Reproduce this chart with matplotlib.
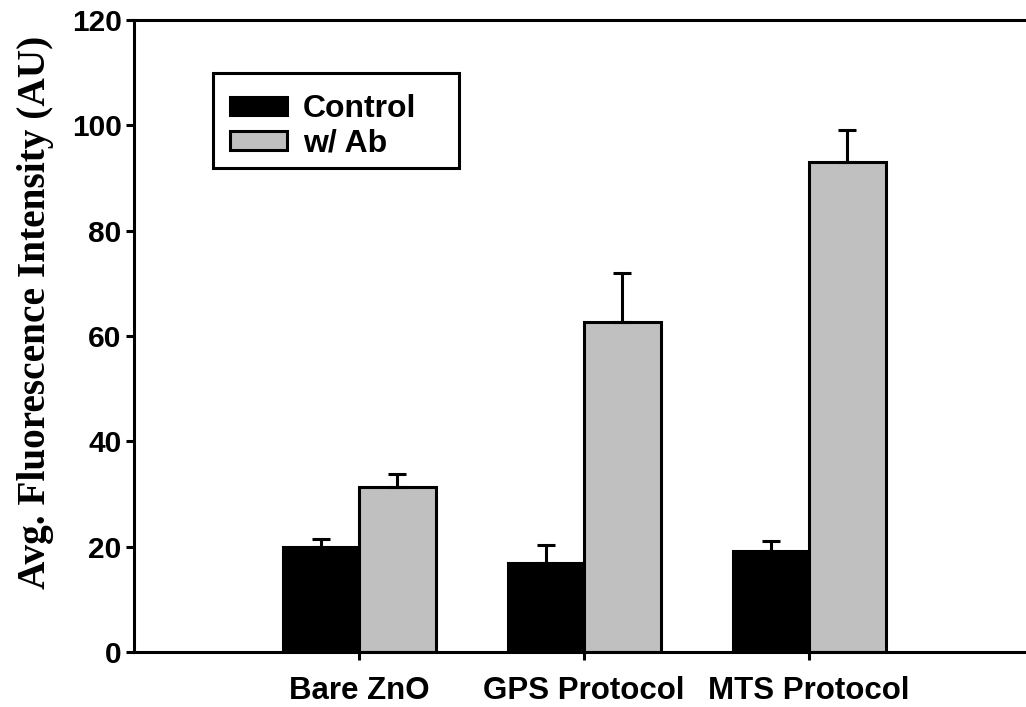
import matplotlib
matplotlib.use("Agg")
import matplotlib.pyplot as plt
from matplotlib.patches import Rectangle
import numpy as np

categories = ["Bare ZnO", "GPS Protocol", "MTS Protocol"]
control = [19.9, 16.9, 19.2]
control_err = [1.6, 3.4, 1.9]
with_ab = [31.4, 62.6, 93.0]
with_ab_err = [2.4, 9.4, 6.2]
yticks = [0, 20, 40, 60, 80, 100, 120]

W, H = 1026, 707
fig = plt.figure(figsize=(W / 100, H / 100), dpi=100)
left, right, top, bottom = 134, 1026, 20, 652
ax = fig.add_axes([left / W, 1 - bottom / H, (right - left) / W, (bottom - top) / H])


def fx(px):
    return (px - left) / (right - left)


def fy(py):
    return 1 - (py - top) / (bottom - top)


x = np.arange(1, len(categories) + 1)
bw = 0.34
lw = 2.2
ax.bar(x - bw / 2, control, bw, color="black", edgecolor="black", linewidth=lw,
       label="Control", zorder=2)
ax.bar(x + bw / 2, with_ab, bw, color="#c0c0c0", edgecolor="black", linewidth=lw,
       label="w/ Ab", zorder=2)
ax.errorbar(x - bw / 2, control, yerr=[np.zeros(3), control_err], fmt="none",
            ecolor="black", elinewidth=lw, capsize=6.5, capthick=lw, zorder=3)
ax.errorbar(x + bw / 2, with_ab, yerr=[np.zeros(3), with_ab_err], fmt="none",
            ecolor="black", elinewidth=lw, capsize=6.5, capthick=lw, zorder=3)

ax.set_xlim(0, (right - left) / 225)
ax.set_ylim(0, 120)
ax.set_yticks(yticks)
ax.set_xticks(x)
ax.set_xticklabels(categories)

for s in ["left", "top", "bottom"]:
    ax.spines[s].set_linewidth(lw)
ax.spines["right"].set_visible(False)

ax.tick_params(axis="y", direction="out", length=6, width=lw, pad=3)
ax.tick_params(axis="x", direction="out", length=6, width=lw, pad=11)
for lbl in ax.get_yticklabels():
    lbl.set_fontfamily("Liberation Sans")
    lbl.set_fontweight("bold")
    lbl.set_fontsize(21.5)
for lbl in ax.get_xticklabels():
    lbl.set_fontfamily("Liberation Sans")
    lbl.set_fontweight("bold")
    lbl.set_fontsize(22.5)

ax.set_ylabel("Avg. Fluorescence Intensity (AU)", fontfamily="Liberation Serif",
              fontweight="bold", fontsize=28.3)
ax.yaxis.set_label_coords(fx(54), fy(312))

# legend box drawn separately so its padding can be wider than the entries
ax.add_patch(Rectangle((fx(213), fy(168)), fx(459) - fx(213), fy(73) - fy(168),
                       transform=ax.transAxes, facecolor="white", edgecolor="black",
                       linewidth=lw, zorder=4))
leg = ax.legend(loc="upper left", bbox_to_anchor=(fx(230), fy(94)),
                frameon=False,
                prop={"family": "Liberation Sans", "weight": "bold", "size": 23},
                handlelength=1.78, handleheight=0.5, handletextpad=0.5,
                borderpad=0, labelspacing=0.15, borderaxespad=0)
leg.set_zorder(5)

fig.savefig("out.png", dpi=100)
